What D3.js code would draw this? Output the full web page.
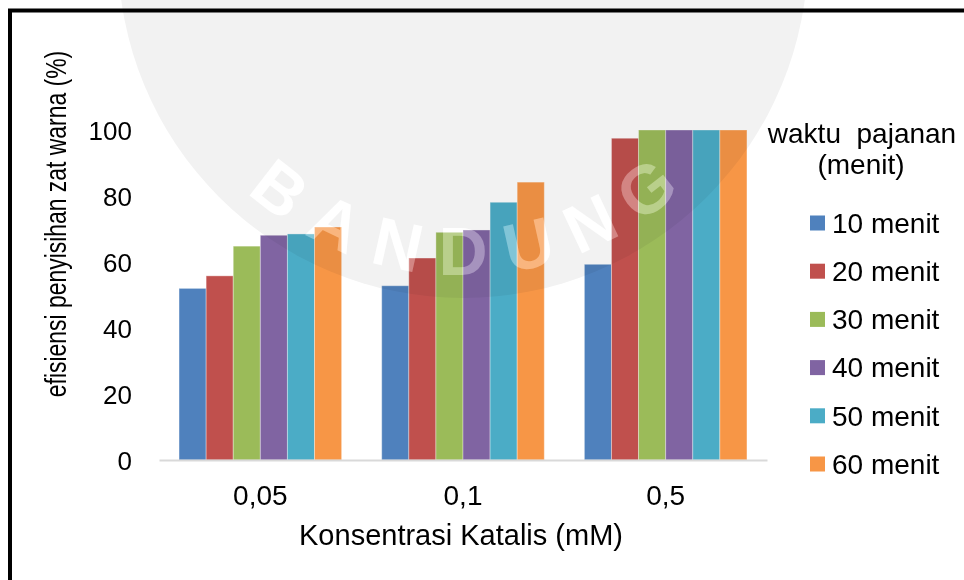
<!DOCTYPE html>
<html>
<head>
<meta charset="utf-8">
<script src="https://cdn.jsdelivr.net/npm/d3@7"></script>
<style>
  body { margin: 0; background: #fff; }
  text { font-family: "Liberation Sans", Arial, sans-serif; }
</style>
</head>
<body>
<div id="chart"></div>
<script>
// data
const categories = ["0,05", "0,1", "0,5"];
const seriesNames = ["10 menit", "20 menit", "30 menit", "40 menit", "50 menit", "60 menit"];
const menit10 = [52.0, 52.8, 59.3];
const menit20 = [55.8, 61.2, 97.5];
const menit30 = [64.8, 69.0, 100];
const menit40 = [68.1, 69.7, 100];
const menit50 = [68.5, 78.1, 100];
const menit60 = [70.6, 84.2, 100];
const yTicks = [0, 20, 40, 60, 80, 100];
const seriesColors = ["#4F81BD", "#C0504D", "#9BBB59", "#8064A2", "#4BACC6", "#F79646"];
const watermarkLetters = ["B", "A", "N", "D", "U", "N", "G"];

const seriesValues = [menit10, menit20, menit30, menit40, menit50, menit60];

const width = 964, height = 580;
const plot = {left: 159, right: 767, top: 130, bottom: 460};

const svg = d3.select("#chart").append("svg")
    .attr("width", width)
    .attr("height", height);

svg.append("rect")
    .attr("width", width)
    .attr("height", height)
    .attr("fill", "#fff");

const x0 = d3.scaleBand()
    .domain(categories)
    .range([plot.left, plot.right])
    .padding(0);

const x1 = d3.scaleBand()
    .domain(seriesNames)
    .range([0, x0.bandwidth()])
    .paddingInner(0)
    .paddingOuter(0.74);

const y = d3.scaleLinear()
    .domain([0, 100])
    .range([plot.bottom, plot.top]);

const color = d3.scaleOrdinal().domain(seriesNames).range(seriesColors);

// bars
const groups = svg.append("g").selectAll("g")
    .data(categories)
    .join("g")
    .attr("transform", d => `translate(${x0(d)},0)`);

groups.selectAll("rect")
    .data((c, ci) => seriesNames.map((s, si) => ({series: s, value: seriesValues[si][ci]})))
    .join("rect")
    .attr("x", d => x1(d.series))
    .attr("y", d => y(d.value))
    .attr("width", x1.bandwidth())
    .attr("height", d => y(0) - y(d.value))
    .attr("fill", d => color(d.series))
    .attr("stroke", "#fff")
    .attr("stroke-opacity", 0.35)
    .attr("stroke-width", 1);

// x axis
const xAxis = svg.append("g")
    .attr("transform", `translate(0,${plot.bottom})`)
    .call(d3.axisBottom(x0).tickSize(0).tickSizeOuter(0).tickPadding(0));
xAxis.select(".domain").attr("stroke", "#d9d9d9").attr("stroke-width", 2);
xAxis.selectAll("text")
    .attr("y", 45)
    .attr("dy", 0)
    .attr("fill", "#000")
    .style("font-size", "28px");

// y axis
const yAxis = svg.append("g")
    .attr("transform", "translate(140,0)")
    .call(d3.axisLeft(y).tickValues(yTicks).tickSize(0).tickPadding(8));
yAxis.select(".domain").remove();
yAxis.selectAll("text")
    .attr("fill", "#000")
    .attr("dy", "0.35em")
    .style("font-size", "26px");

// watermark (faint disc with lettering)
const wmCx = 463, wmCy = -47, wmR = 345, letterR = 298, letterStep = 12.6;

function drawLetters(sel, fill) {
    sel.selectAll("text")
        .data(watermarkLetters)
        .join("text")
        .attr("transform", (d, i) => {
            const a = (i - 3) * letterStep;
            const rad = a * Math.PI / 180;
            const px = wmCx + letterR * Math.sin(rad);
            const py = wmCy + letterR * Math.cos(rad);
            return `translate(${px},${py}) rotate(${-a})`;
        })
        .attr("text-anchor", "middle")
        .attr("dy", "0.36em")
        .attr("fill", fill)
        .style("font-size", "68px")
        .style("font-weight", "bold")
        .text(d => d);
}

const defs = svg.append("defs");
const mask = defs.append("mask").attr("id", "wm-mask");
mask.append("rect").attr("width", width).attr("height", height).attr("fill", "#fff");
drawLetters(mask.append("g"), "#000");

svg.append("circle")
    .attr("cx", wmCx)
    .attr("cy", wmCy)
    .attr("r", wmR)
    .attr("fill", "#f2f2f2")
    .attr("mask", "url(#wm-mask)")
    .style("mix-blend-mode", "multiply");

drawLetters(svg.append("g").attr("opacity", 0.3), "#fff");

// axis titles
svg.append("text")
    .attr("x", 461)
    .attr("y", 545)
    .attr("text-anchor", "middle")
    .attr("fill", "#000")
    .style("font-size", "29px")
    .text("Konsentrasi Katalis (mM)");

svg.append("text")
    .attr("transform", "translate(66,224) rotate(-90) scale(0.79,1)")
    .attr("text-anchor", "middle")
    .attr("fill", "#000")
    .style("font-size", "29px")
    .text("efisiensi penyisihan zat warna (%)");

// legend
const legend = svg.append("g");
legend.append("text")
    .attr("x", 862)
    .attr("y", 143)
    .attr("text-anchor", "middle")
    .attr("fill", "#000")
    .attr("xml:space", "preserve")
    .style("white-space", "pre")
    .style("font-size", "28px")
    .text("waktu  pajanan");
legend.append("text")
    .attr("x", 861)
    .attr("y", 174)
    .attr("text-anchor", "middle")
    .attr("fill", "#000")
    .style("font-size", "28px")
    .text("(menit)");

const legendItem = legend.selectAll("g.item")
    .data(seriesNames)
    .join("g")
    .attr("class", "item")
    .attr("transform", (d, i) => `translate(810,${223 + i * 48.2})`);

legendItem.append("rect")
    .attr("x", 0)
    .attr("y", -7.5)
    .attr("width", 15)
    .attr("height", 15)
    .attr("fill", d => color(d));

legendItem.append("text")
    .attr("x", 22)
    .attr("dy", "0.35em")
    .attr("fill", "#000")
    .style("font-size", "28px")
    .text(d => d);

// frame (only top and left edges fall inside the picture)
svg.append("rect")
    .attr("x", 10)
    .attr("y", 10.5)
    .attr("width", width + 20)
    .attr("height", height + 20)
    .attr("fill", "none")
    .attr("stroke", "#000")
    .attr("stroke-width", 4);
</script>
</body>
</html>
